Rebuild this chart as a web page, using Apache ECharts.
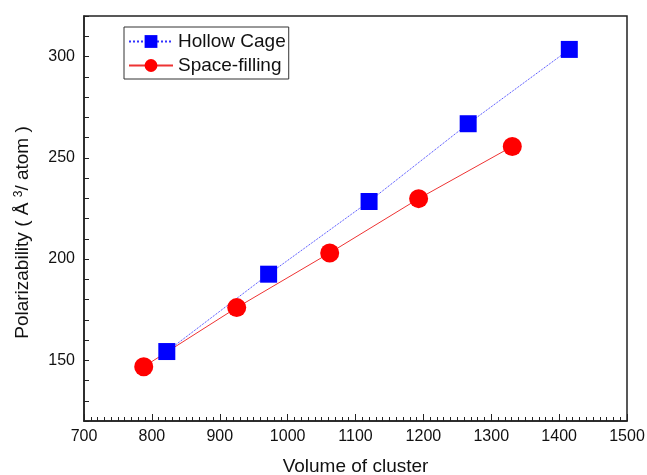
<!DOCTYPE html>
<html><head><meta charset="utf-8">
<script src="https://cdn.jsdelivr.net/npm/echarts@6/dist/echarts.min.js"></script>
<style>html,body{margin:0;padding:0;background:#fff}#c{width:647px;height:475px}</style>
</head><body><div id="c"></div>
<script>
const hollowX = [822, 972, 1120, 1266, 1415];
const hollowY = [154.3, 192.5, 228.4, 266.8, 303.5];
const spaceX = [788, 925, 1062, 1193, 1331];
const spaceY = [146.8, 176, 203, 229.8, 255.6];
const xTicks = [700, 800, 900, 1000, 1100, 1200, 1300, 1400, 1500];
const yTicks = [150, 200, 250, 300];

const chart = echarts.init(document.getElementById('c'));
const font = 'Liberation Sans, Arial, sans-serif';
chart.setOption({
  animation: false,
  grid: {left: 84, right: 20, top: 16, bottom: 54, show: true, borderColor: '#222', borderWidth: 1.5,
    containLabel: false, outerBoundsMode: 'none'},
  legend: {
    left: 124, top: 27, orient: 'vertical', itemGap: 5,
    borderColor: '#333', borderWidth: 1, padding: [5, 3, 4, 4],
    itemWidth: 44, itemHeight: 16,
    textStyle: {fontFamily: font, fontSize: 19, color: '#111'},
    data: ['Hollow Cage', 'Space-filling']
  },
  xAxis: {
    type: 'value', min: 700, max: 1500, interval: 100,
    name: 'Volume of cluster', nameLocation: 'middle', nameGap: 36,
    nameTextStyle: {fontFamily: font, fontSize: 19, color: '#111'},
    axisLine: {show: true, lineStyle: {color: '#222', width: 1.5}},
    axisTick: {show: true, inside: true, length: 7, lineStyle: {color: '#222'}},
    minorTick: {show: true, splitNumber: 10, length: 4, lineStyle: {color: '#222'}},
    splitLine: {show: false},
    axisLabel: {fontFamily: font, fontSize: 16, color: '#111', margin: 8,
      formatter: v => xTicks.includes(v) ? String(v) : ''}
  },
  yAxis: {
    type: 'value', min: 120, max: 320, interval: 10,
    name: '{n|Polarizability ( Å }{s|3}{n|/ atom )}', nameLocation: 'middle', nameGap: 51,
    nameTextStyle: {padding: [0, 28, 0, 0], rich: {
      n: {fontFamily: font, fontSize: 19, color: '#111'},
      s: {fontFamily: font, fontSize: 12, color: '#111', verticalAlign: 'top', padding: [0, 0, 8, 0]}
    }},
    axisLine: {show: true, lineStyle: {color: '#222', width: 1.5}},
    axisTick: {show: true, inside: true, length: 5, lineStyle: {color: '#222'}},
    splitLine: {show: false},
    axisLabel: {fontFamily: font, fontSize: 16, color: '#111', margin: 9,
      formatter: v => yTicks.includes(v) ? String(v) : ''}
  },
  series: [
    {name: 'Hollow Cage', type: 'line', data: hollowX.map((x, i) => [x, hollowY[i]]),
      symbol: 'rect', symbolSize: 17, itemStyle: {color: '#0000ff'},
      lineStyle: {color: '#3333ff', width: 1, type: 'dotted'}},
    {name: 'Space-filling', type: 'line', data: spaceX.map((x, i) => [x, spaceY[i]]),
      symbol: 'circle', symbolSize: 19, itemStyle: {color: '#ff0000'},
      lineStyle: {color: '#ee3333', width: 1, type: 'solid'}}
  ]
});
</script></body></html>
